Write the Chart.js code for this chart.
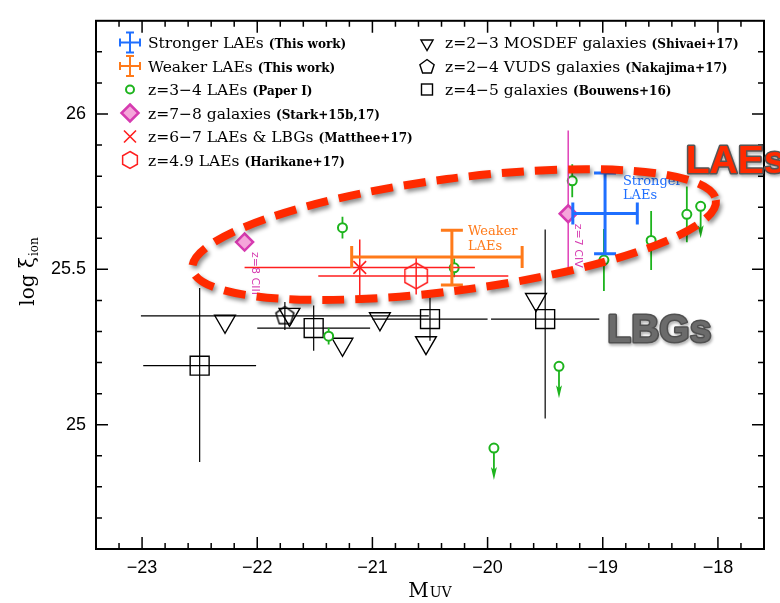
<!DOCTYPE html>
<html>
<head>
<meta charset="utf-8">
<script src="https://cdn.jsdelivr.net/npm/chart.js@4.4.1/dist/chart.umd.min.js"></script>
<style>
  html, body { margin: 0; padding: 0; background: #fff; }
</style>
</head>
<body>
<canvas id="xion" width="780" height="603"></canvas>
<script>
// log xi_ion against M_UV for LAEs and LBGs
const xTicks = [-23, -22, -21, -20, -19, -18];
const yTicks = [25, 25.5, 26];

// this work (xm/xp, ym/yp: lower/upper errors)
const strongerLAEs = [{ x: -18.98, y: 25.68, xm: 0.28, xp: 0.28, ym: 0.13, yp: 0.13 }];
const weakerLAEs = [{ x: -20.31, y: 25.54, xm: 0.87, xp: 0.61, ym: 0.09, yp: 0.086 }];

// z=3-4 LAEs, Paper I (lim = upper limit)
const paperI = [
  { x: -21.26, y: 25.634, ym: 0.035, yp: 0.035 },
  { x: -21.38, y: 25.285, ym: 0.027, yp: 0.027 },
  { x: -20.29, y: 25.505, ym: 0.03, yp: 0.03 },
  { x: -19.38, y: 25.188, lim: true },
  { x: -19.945, y: 24.925, lim: true },
  { x: -19.265, y: 25.785, ym: 0.053, yp: 0.053 },
  { x: -18.99, y: 25.53, ym: 0.10, yp: 0.10 },
  { x: -18.58, y: 25.593, ym: 0.095, yp: 0.095 },
  { x: -18.27, y: 25.677, ym: 0.09, yp: 0.09 },
  { x: -18.15, y: 25.703, lim: true }
];

// z=7-8 galaxies, Stark+15b,17
const stark = [
  { x: -22.11, y: 25.588, line: 'z=8 CIII' },
  { x: -19.30, y: 25.679, ym: 0.189, yp: 0.268, line: 'z=7 CIV' }
];

// z=6-7 LAEs & LBGs, Matthee+17
const matthee17 = [{ x: -21.11, y: 25.506, xm: 1.0, xp: 1.0, ym: 0.09, yp: 0.09 }];

// z=4.9 LAEs, Harikane+17
const harikane17 = [{ x: -20.62, y: 25.479, xm: 0.85, xp: 0.80, ym: 0.06, yp: 0.06 }];

// z=2-3 MOSDEF, Shivaei+17
const shivaei17 = [
  { x: -22.28, y: 25.333 },
  { x: -21.72, y: 25.355 },
  { x: -21.26, y: 25.259 },
  { x: -20.935, y: 25.341 },
  { x: -20.535, y: 25.264 },
  { x: -19.58, y: 25.403 }
];

// z=2-4 VUDS, Nakajima+17
const nakajima17 = [{ x: -21.76, y: 25.35, xm: 1.25, xp: 1.25, ym: 0.045, yp: 0.045 }];

// z=4-5, Bouwens+16
const bouwens16 = [
  { x: -22.50, y: 25.19, xm: 0.49, xp: 0.49, ym: 0.31, yp: 0.25 },
  { x: -21.51, y: 25.311, xm: 0.49, xp: 0.49, ym: 0.073, yp: 0.073 },
  { x: -20.50, y: 25.34, xm: 0.5, xp: 0.5, ym: 0.07, yp: 0.07 },
  { x: -19.50, y: 25.34, xm: 0.47, xp: 0.47, ym: 0.32, yp: 0.288 }
];

// dashed ring around the LAEs: centre in data units
const ringCentre = [-20.29, 25.612];

const green = '#1db41d', magenta = '#d63bb0', red = '#ff1f1f',
      blue = '#1f6fff', orange = '#ff7a1a', black = '#000';
const serif = '"DejaVu Serif", serif';
const sans = '"Liberation Sans", Arial, sans-serif';

function tracePoly(g, n, r, x, y, rot) {
  g.beginPath();
  for (let i = 0; i < n; i++) {
    const a = rot + i * 2 * Math.PI / n;
    const px = x + r * Math.sin(a), py = y - r * Math.cos(a);
    if (i) g.lineTo(px, py); else g.moveTo(px, py);
  }
  g.closePath();
}

function polyMarker(n, r, color, lw) {
  const size = Math.ceil(2 * r + lw + 4);
  const c = document.createElement('canvas');
  c.width = c.height = size;
  const g = c.getContext('2d');
  g.strokeStyle = color;
  g.lineWidth = lw;
  tracePoly(g, n, r, size / 2, size / 2, 0);
  g.stroke();
  return c;
}

const hexMarker = polyMarker(6, 13, red, 1.5);
const pentMarker = polyMarker(5, 9.5, black, 1.4);

// legend / plot symbols
function drawSymbol(g, kind, x, y, s, color) {
  g.save();
  g.strokeStyle = color;
  g.fillStyle = color;
  if (kind === 'bar') {
    const h = 10, c = 4;
    g.lineWidth = 2;
    g.beginPath();
    g.moveTo(x - h, y); g.lineTo(x + h, y);
    g.moveTo(x, y - h); g.lineTo(x, y + h);
    g.moveTo(x - h, y - c); g.lineTo(x - h, y + c);
    g.moveTo(x + h, y - c); g.lineTo(x + h, y + c);
    g.moveTo(x - c, y - h); g.lineTo(x + c, y - h);
    g.moveTo(x - c, y + h); g.lineTo(x + c, y + h);
    g.stroke();
  } else if (kind === 'circle') {
    g.lineWidth = 2;
    g.fillStyle = '#fff';
    g.beginPath(); g.arc(x, y, s, 0, 2 * Math.PI); g.fill(); g.stroke();
  } else if (kind === 'diamond') {
    g.lineWidth = 2.5;
    g.fillStyle = '#f5a6da';
    tracePoly(g, 4, s, x, y, 0); g.fill(); g.stroke();
  } else if (kind === 'x') {
    g.lineWidth = 1.6;
    g.beginPath();
    g.moveTo(x - s, y - s); g.lineTo(x + s, y + s);
    g.moveTo(x + s, y - s); g.lineTo(x - s, y + s);
    g.stroke();
  } else if (kind === 'hex') {
    g.lineWidth = 1.5; tracePoly(g, 6, s, x, y, 0); g.stroke();
  } else if (kind === 'tri') {
    g.lineWidth = 1.4; tracePoly(g, 3, s, x, y + 1, Math.PI); g.stroke();
  } else if (kind === 'pent') {
    g.lineWidth = 1.4; tracePoly(g, 5, s, x, y + 1, 0); g.stroke();
  } else if (kind === 'square') {
    g.lineWidth = 1.4; g.strokeRect(x - s, y - s, 2 * s, 2 * s);
  }
  g.restore();
}

// frame with inward ticks on all four sides
const frame = {
  id: 'frame',
  beforeDatasetsDraw(chart) {
    const { ctx, chartArea: a, scales: { x, y } } = chart;
    ctx.save();
    ctx.strokeStyle = black;
    ctx.lineWidth = 1.5;
    ctx.beginPath();
    for (let i = -116; i <= -89; i++) {
      const px = x.getPixelForValue(i / 5), len = i % 5 === 0 ? 12 : 6;
      ctx.moveTo(px, a.bottom); ctx.lineTo(px, a.bottom - len);
      ctx.moveTo(px, a.top); ctx.lineTo(px, a.top + len);
    }
    for (let i = 247; i <= 262; i++) {
      const py = y.getPixelForValue(i / 10), len = i % 5 === 0 ? 12 : 6;
      ctx.moveTo(a.left, py); ctx.lineTo(a.left + len, py);
      ctx.moveTo(a.right, py); ctx.lineTo(a.right - len, py);
    }
    ctx.stroke();
    ctx.lineWidth = 2;
    ctx.strokeRect(a.left, a.top, a.width, a.height);
    ctx.restore();
  }
};

// error bars and upper-limit arrows, drawn just under each dataset's markers
const errorBars = {
  id: 'errorBars',
  beforeDatasetDraw(chart, args) {
    const ds = chart.data.datasets[args.index];
    const eb = ds.errorBar;
    if (!eb) return;
    const { ctx, chartArea: a, scales: { x, y } } = chart;
    const cap = eb.cap || 0;
    ctx.save();
    ctx.beginPath(); ctx.rect(a.left, a.top, a.width, a.height); ctx.clip();
    ctx.strokeStyle = eb.color;
    ctx.fillStyle = eb.color;
    ctx.lineWidth = eb.width;
    ds.data.forEach(p => {
      const px = x.getPixelForValue(p.x), py = y.getPixelForValue(p.y);
      ctx.beginPath();
      if (p.xm !== undefined) {
        const l = x.getPixelForValue(p.x - p.xm), r = x.getPixelForValue(p.x + p.xp);
        ctx.moveTo(l, py); ctx.lineTo(r, py);
        if (cap) {
          ctx.moveTo(l, py - cap); ctx.lineTo(l, py + cap);
          ctx.moveTo(r, py - cap); ctx.lineTo(r, py + cap);
        }
      }
      if (p.ym !== undefined) {
        const b = y.getPixelForValue(p.y - p.ym), t = y.getPixelForValue(p.y + p.yp);
        ctx.moveTo(px, b); ctx.lineTo(px, t);
        if (cap) {
          ctx.moveTo(px - cap, b); ctx.lineTo(px + cap, b);
          ctx.moveTo(px - cap, t); ctx.lineTo(px + cap, t);
        }
      }
      ctx.stroke();
      if (p.lim) {
        const tip = py + 32;
        ctx.beginPath(); ctx.moveTo(px, py); ctx.lineTo(px, tip - 8); ctx.stroke();
        ctx.beginPath();
        ctx.moveTo(px, tip);
        ctx.lineTo(px - 3, tip - 13);
        ctx.lineTo(px, tip - 10);
        ctx.lineTo(px + 3, tip - 13);
        ctx.closePath();
        ctx.fill();
      }
    });
    ctx.restore();
  }
};

// dashed ring, labels inside the plot
const notes = {
  id: 'notes',
  afterDatasetsDraw(chart) {
    const { ctx, scales: { x, y } } = chart;
    ctx.save();

    // line labels beside the Stark points
    ctx.fillStyle = magenta;
    ctx.font = '11px "DejaVu Sans", sans-serif';
    ctx.textBaseline = 'middle';
    stark.forEach(p => {
      ctx.save();
      ctx.translate(x.getPixelForValue(p.x) + 10, y.getPixelForValue(p.y) + 10);
      ctx.rotate(Math.PI / 2);
      ctx.fillText(p.line, 0, 0);
      ctx.restore();
    });

    ctx.textBaseline = 'alphabetic';
    ctx.font = '13px ' + serif;
    ctx.fillStyle = orange;
    ctx.fillText('Weaker', x.getPixelForValue(-20.17), y.getPixelForValue(25.612));
    ctx.fillText('LAEs', x.getPixelForValue(-20.17), y.getPixelForValue(25.562));
    ctx.fillStyle = blue;
    ctx.fillText('Stronger', x.getPixelForValue(-18.825), y.getPixelForValue(25.773));
    ctx.fillText('LAEs', x.getPixelForValue(-18.825), y.getPixelForValue(25.726));

    ctx.save();
    ctx.shadowColor = 'rgba(0,0,0,0.45)';
    ctx.shadowBlur = 4;
    ctx.shadowOffsetX = 2;
    ctx.shadowOffsetY = 3;
    ctx.strokeStyle = '#ff2a00';
    ctx.lineWidth = 8;
    ctx.setLineDash([22, 11]);
    ctx.beginPath();
    ctx.ellipse(x.getPixelForValue(ringCentre[0]), y.getPixelForValue(ringCentre[1]),
                264, 56, -7.5 * Math.PI / 180, 0, 2 * Math.PI);
    ctx.stroke();
    ctx.restore();

    ctx.font = 'bold 39px ' + sans;
    ctx.lineJoin = 'round';
    ctx.save();
    ctx.shadowColor = 'rgba(0,0,0,0.35)';
    ctx.shadowBlur = 3;
    ctx.shadowOffsetX = 1;
    ctx.shadowOffsetY = 2;
    ctx.lineWidth = 3;
    ctx.strokeStyle = '#555';
    ctx.strokeText('LAEs', x.getPixelForValue(-18.28), y.getPixelForValue(25.81));
    ctx.strokeStyle = '#505050';
    ctx.strokeText('LBGs', x.getPixelForValue(-18.96), y.getPixelForValue(25.265));
    ctx.restore();
    ctx.fillStyle = '#ff2a00';
    ctx.fillText('LAEs', x.getPixelForValue(-18.28), y.getPixelForValue(25.81));
    ctx.fillStyle = '#6b6b6b';
    ctx.fillText('LBGs', x.getPixelForValue(-18.96), y.getPixelForValue(25.265));
    ctx.restore();
  }
};

const legendCols = [
  { x: 130, rows: [
    ['bar', 0, blue, 'Stronger LAEs', '(This work)'],
    ['bar', 0, orange, 'Weaker LAEs', '(This work)'],
    ['circle', 4, green, 'z=3\u22124 LAEs', '(Paper I)'],
    ['diamond', 8.5, magenta, 'z=7\u22128 galaxies', '(Stark+15b,17)'],
    ['x', 6, red, 'z=6\u22127 LAEs & LBGs', '(Matthee+17)'],
    ['hex', 8.5, red, 'z=4.9 LAEs', '(Harikane+17)']
  ] },
  { x: 427, rows: [
    ['tri', 7, black, 'z=2\u22123 MOSDEF galaxies', '(Shivaei+17)'],
    ['pent', 7.5, black, 'z=2\u22124 VUDS galaxies', '(Nakajima+17)'],
    ['square', 5.5, black, 'z=4\u22125 galaxies', '(Bouwens+16)']
  ] }
];

const legendBox = {
  id: 'legendBox',
  afterDraw(chart) {
    const ctx = chart.ctx;
    ctx.save();
    ctx.fillStyle = black;
    legendCols.forEach(col => {
      col.rows.forEach((r, i) => {
        const cy = 42.5 + i * 23.5;
        drawSymbol(ctx, r[0], col.x, cy, r[1], r[2]);
        const tx = col.x + 18;
        ctx.fillStyle = black;
        ctx.font = '15.5px ' + serif;
        ctx.fillText(r[3], tx, cy + 5.5);
        const w = ctx.measureText(r[3]).width;
        ctx.font = 'bold 12px ' + serif;
        ctx.fillText(r[4], tx + w + 5, cy + 5.5);
      });
    });
    ctx.restore();
  }
};

const axisTitles = {
  id: 'axisTitles',
  afterDraw(chart) {
    const { ctx, chartArea: a } = chart;
    ctx.save();
    ctx.fillStyle = black;
    ctx.textBaseline = 'alphabetic';
    // x: M with small-cap UV
    ctx.font = '20px ' + serif;
    const wm = ctx.measureText('M').width;
    ctx.font = '14px ' + serif;
    const wu = ctx.measureText('UV').width;
    const x0 = (a.left + a.right) / 2 - (wm + wu + 1) / 2;
    ctx.font = '20px ' + serif;
    ctx.fillText('M', x0, 597);
    ctx.font = '14px ' + serif;
    ctx.fillText('UV', x0 + wm + 1, 597);
    // y: log xi_ion
    ctx.translate(34, 272);
    ctx.rotate(-Math.PI / 2);
    ctx.font = '20px ' + serif;
    const wl = ctx.measureText('log \u03be').width;
    ctx.font = '12px ' + serif;
    const ws = ctx.measureText('ion').width;
    const s0 = -(wl + ws) / 2;
    ctx.font = '20px ' + serif;
    ctx.fillText('log \u03be', s0, 0);
    ctx.font = '12px ' + serif;
    ctx.fillText('ion', s0 + wl + 1, 4);
    ctx.restore();
  }
};

const minus = v => (v < 0 ? '\u2212' + Math.abs(v) : String(v));

new Chart(document.getElementById('xion'), {
  type: 'scatter',
  data: {
    datasets: [
      { label: 'Bouwens+16', data: bouwens16, order: 10,
        pointStyle: 'rect', pointRadius: 13.4, borderWidth: 1.4,
        borderColor: black, backgroundColor: 'rgba(0,0,0,0)',
        errorBar: { color: black, width: 1.2 } },
      { label: 'Shivaei+17', data: shivaei17, order: 9,
        pointStyle: 'triangle', pointRotation: 180, pointRadius: 12, borderWidth: 1.4,
        borderColor: black, backgroundColor: 'rgba(0,0,0,0)' },
      { label: 'Nakajima+17', data: nakajima17, order: 8,
        pointStyle: pentMarker, pointRadius: 10,
        errorBar: { color: black, width: 1.2 } },
      { label: 'Paper I', data: paperI, order: 7,
        pointStyle: 'circle', pointRadius: 4.5, borderWidth: 2,
        borderColor: green, backgroundColor: '#fff',
        errorBar: { color: green, width: 1.8 } },
      { label: 'Harikane+17', data: harikane17, order: 6,
        pointStyle: hexMarker, pointRadius: 13,
        errorBar: { color: red, width: 1.5 } },
      { label: 'Matthee+17', data: matthee17, order: 5,
        pointStyle: 'crossRot', pointRadius: 9, borderWidth: 1.6,
        borderColor: red, backgroundColor: red,
        errorBar: { color: red, width: 1.5 } },
      { label: 'Weaker LAEs', data: weakerLAEs, order: 4, pointRadius: 0,
        errorBar: { color: orange, width: 3, cap: 11 } },
      { label: 'Stark+15b,17', data: stark, order: 3,
        pointStyle: 'rectRot', pointRadius: 8.5, borderWidth: 2.5,
        borderColor: magenta, backgroundColor: '#f5a6da',
        errorBar: { color: '#e040b8', width: 1.5 } },
      { label: 'Stronger LAEs', data: strongerLAEs, order: 2, pointRadius: 0,
        errorBar: { color: blue, width: 3, cap: 11 } }
    ]
  },
  options: {
    responsive: false,
    animation: false,
    events: [],
    layout: { padding: { left: 0, right: 16, top: 10, bottom: 0 } },
    plugins: { legend: { display: false }, tooltip: { enabled: false } },
    scales: {
      x: {
        type: 'linear', min: -23.4, max: -17.6,
        grid: { display: false, drawTicks: false },
        border: { display: false },
        afterBuildTicks: s => { s.ticks = xTicks.map(v => ({ value: v })); },
        afterFit: s => { s.height = 54; },
        ticks: { autoSkip: false, maxRotation: 0, padding: 8, color: black,
                 font: { family: 'Liberation Sans', size: 18 }, callback: minus }
      },
      y: {
        type: 'linear', min: 24.6, max: 26.3,
        grid: { display: false, drawTicks: false },
        border: { display: false },
        afterBuildTicks: s => { s.ticks = yTicks.map(v => ({ value: v })); },
        afterFit: s => { s.width = 96; },
        ticks: { autoSkip: false, padding: 10, color: black,
                 font: { family: 'Liberation Sans', size: 18 }, callback: v => String(v) }
      }
    }
  },
  plugins: [frame, errorBars, notes, legendBox, axisTitles]
});
</script>
</body>
</html>
